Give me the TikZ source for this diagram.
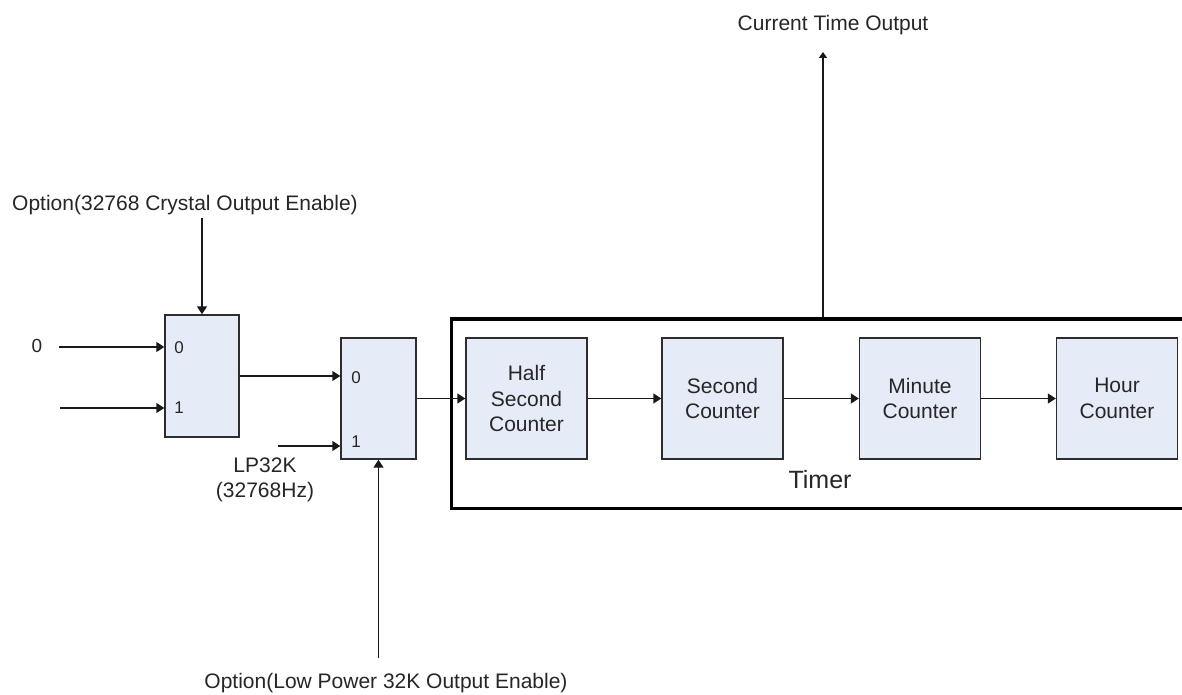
\documentclass[tikz,border=0pt]{standalone}
\usepackage{fontspec}
\setmainfont{Liberation Sans}
\usetikzlibrary{arrows.meta}
\definecolor{boxfill}{RGB}{230,236,247}
\definecolor{boxline}{RGB}{45,45,45}
\begin{document}
\begin{tikzpicture}[x=1bp,y=-1bp,
  txt/.style={font=\fontsize{21bp}{25.5bp}\selectfont, text=black!85, inner sep=0pt},
  small/.style={font=\fontsize{17bp}{20bp}\selectfont, text=black!85, inner sep=0pt},
  mux/.style={draw=boxline, fill=boxfill, line width=1.4bp, minimum width=74bp, minimum height=122bp, inner sep=0pt},
  ctr/.style={draw=boxline, fill=boxfill, line width=1.4bp, minimum width=121bp, minimum height=121bp, inner sep=0pt, align=center, font=\fontsize{21bp}{25.5bp}\selectfont, text=black!85},
  timerbox/.style={draw=black, line width=3bp, minimum width=744bp, minimum height=189bp, inner sep=0pt},
  arr/.style={line width=1.4bp, draw=black!90, -{Triangle[length=8bp,width=10bp]}},
]
\useasboundingbox (0,0) rectangle (1182,695);
\clip (0,0) rectangle (1182,695);
\fill[white] (0,0) rectangle (1182,695);

% blocks
\node[timerbox] (tm) at (823,413.5) {};
\node[mux] (m1) at (202,376) {};
\node[mux, minimum width=75bp, minimum height=121bp] (m2) at (378.5,398.5) {};
\node[ctr] (hs) at (526.5,398.5) {Half\\Second\\Counter};
\node[ctr] (sc) at (722.5,398.5) {Second\\Counter};
\node[ctr] (mc) at (920,398.5) {Minute\\Counter};
\node[ctr] (hc) at (1117,398.5) {Hour\\Counter};

% port labels
\node[small] (m1a) at (179,348) {0};
\node[small] (m1b) at (179,408) {1};
\node[small] (m2a) at (356,378) {0};
\node[small] (m2b) at (356,442) {1};

% texts
\node[txt, font=\fontsize{19bp}{22bp}\selectfont] (zero) at (37,346) {0};
\node[txt] (opt1) at (185,205) {Option(32768 Crystal Output Enable)};
\node[txt] (cur) at (833,25) {Current Time Output};
\node[txt] (opt2) at (386,683) {Option(Low Power 32K Output Enable)};
\node[txt, align=center] (lp) at (265,480) {LP32K\\(32768Hz)};
\node[txt, font=\fontsize{25bp}{30bp}\selectfont] (tmr) at (820,480) {Timer};

% free ends
\coordinate (i0) at (59,347);
\coordinate (i1) at (60,408);
\coordinate (i2) at (278,446);
\coordinate (tp) at (202,218);
\coordinate (bt) at (378.5,658);
\coordinate (cto) at (823,52);

% connectors
\draw[arr] (i0) -- (i0 -| m1.west);
\draw[arr] (i1) -- (i1 -| m1.west);
\draw[arr] (tp) -- (m1.north);
\draw[arr] (m1.east) -- (m1.east -| m2.west);
\draw[arr] (i2) -- (i2 -| m2.west);
\draw[arr] (bt) -- (m2.south);
\draw[arr] (m2.east) -- (hs.west);
\draw[arr] (hs.east) -- (sc.west);
\draw[arr] (sc.east) -- (mc.west);
\draw[arr] (mc.east) -- (hc.west);
\draw[arr, -{Triangle[length=6bp,width=8bp]}] (tm.north) -- (cto);
\end{tikzpicture}
\end{document}
